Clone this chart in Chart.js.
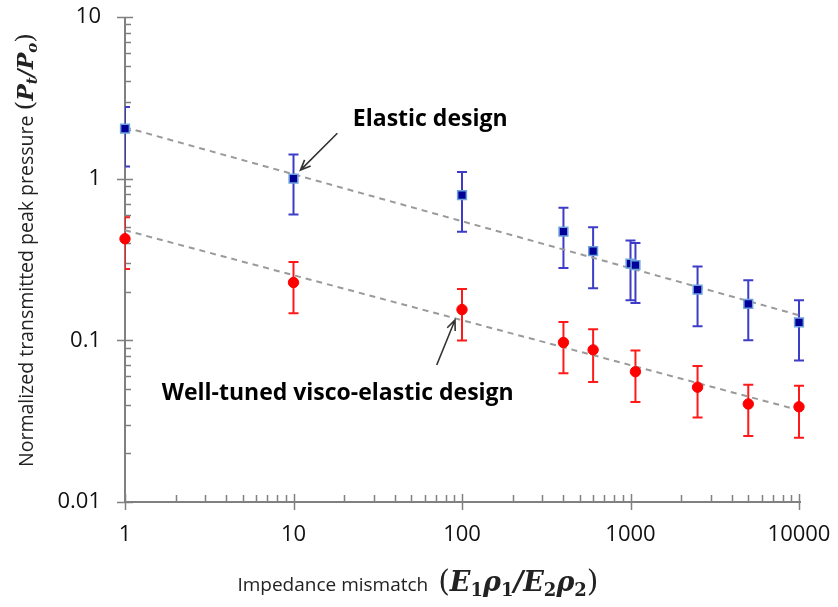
<!DOCTYPE html>
<html><head><meta charset="utf-8">
<script src="https://cdn.jsdelivr.net/npm/chart.js@4"></script>
<style>html,body{margin:0;padding:0;background:#fff}#wrap{width:838px;height:607px}</style>
</head><body><div id="wrap"><canvas id="c" width="838" height="607"></canvas></div>
<script>
// ---- data ----
const elasticX = [1, 10, 100, 400, 600, 1000, 1070, 2500, 5000, 10000];
const elasticY = [2.04, 1.0, 0.79, 0.47, 0.356, 0.298, 0.292, 0.206, 0.168, 0.129];
const elasticHi = [2.78, 1.41, 1.1, 0.66, 0.50, 0.415, 0.40, 0.286, 0.235, 0.177];
const elasticLo = [1.19, 0.60, 0.47, 0.28, 0.21, 0.177, 0.17, 0.122, 0.100, 0.075];
const viscoX = [1, 10, 100, 400, 600, 1070, 2500, 5000, 10000];
const viscoY = [0.425, 0.228, 0.155, 0.097, 0.0873, 0.064, 0.0513, 0.0404, 0.0388];
const viscoHi = [0.578, 0.305, 0.208, 0.130, 0.117, 0.0865, 0.0695, 0.0532, 0.0523];
const viscoLo = [0.276, 0.147, 0.0997, 0.0626, 0.0553, 0.0416, 0.0333, 0.0256, 0.025];
const elasticTrend = [{x: 1, y: 2.08}, {x: 10000, y: 0.143}];
const viscoTrend = [{x: 1, y: 0.48}, {x: 10000, y: 0.037}];
const xTickValues = [1, 10, 100, 1000, 10000];
const xTickLabels = ['1', '10', '100', '1000', '10000'];
const yTickValues = [0.01, 0.1, 1, 10];
const yTickLabels = ['0.01', '0.1', '1', '10'];
const annotTexts = ['Elastic design', 'Well-tuned visco-elastic design'];
const annotAnchors = [{x: 22.5, y: 2.34}, {x: 1.65, y: 0.0466}];
const arrowFrom = [{x: 18.2, y: 1.91}, {x: 70.8, y: 0.0704}];
const arrowTo = [{x: 11.0, y: 1.13}, {x: 90.9, y: 0.1336}];

const pts = (xs, ys) => xs.map((x, i) => ({x, y: ys[i]}));

const REG = '"Open Sans", Lato, sans-serif';
const MATH = '"DejaVu Serif", "Liberation Serif", serif';

function drawRich(ctx, parts, x, y, align) {
  let total = 0;
  parts.forEach(p => { ctx.font = p.font; p.w = ctx.measureText(p.t).width; total += p.w; });
  let cx = align === 'center' ? x - total / 2 : x;
  ctx.textBaseline = 'alphabetic';
  ctx.textAlign = 'left';
  parts.forEach(p => { ctx.font = p.font; ctx.fillText(p.t, cx, y + (p.dy || 0)); cx += p.w; });
}

const decor = {
  id: 'decor',
  beforeDatasetsDraw(chart) {
    const {ctx, chartArea: a, scales: {x, y}} = chart;
    ctx.save();
    ctx.strokeStyle = '#808080';
    ctx.lineWidth = 2;
    ctx.beginPath();
    ctx.moveTo(a.left, a.top); ctx.lineTo(a.left, a.bottom);
    ctx.moveTo(a.left, a.bottom); ctx.lineTo(a.right + 2, a.bottom);
    ctx.stroke();
    ctx.lineWidth = 1.5;
    ctx.beginPath();
    for (let d = -2; d <= 1; d++) {
      for (let m = 1; m <= 10; m++) {
        const v = m * Math.pow(10, d);
        if (v < 0.01 || v > 10) continue;
        const py = Math.round(y.getPixelForValue(v)) + 0.5;
        if (m === 1 || m === 10) { ctx.moveTo(a.left - 8, py); ctx.lineTo(a.left + 8, py); }
        else { ctx.moveTo(a.left, py); ctx.lineTo(a.left + 6, py); }
      }
    }
    for (let d = 0; d <= 3; d++) {
      for (let m = 1; m <= 10; m++) {
        const v = m * Math.pow(10, d);
        const px = Math.round(x.getPixelForValue(v)) + 0.5;
        if (m === 1 || m === 10) { ctx.moveTo(px, a.bottom - 8); ctx.lineTo(px, a.bottom + 8); }
        else { ctx.moveTo(px, a.bottom); ctx.lineTo(px, a.bottom - 7); }
      }
    }
    ctx.stroke();
    // error bars
    ctx.beginPath(); ctx.rect(a.left, a.top - 20, a.right - a.left + 20, a.bottom - a.top + 20); ctx.clip();
    const bars = [[elasticX, elasticHi, elasticLo, '#3c3cc8'], [viscoX, viscoHi, viscoLo, '#ff1a1a']];
    bars.forEach(([xs, hi, lo, col]) => {
      ctx.strokeStyle = col; ctx.lineWidth = 2;
      ctx.beginPath();
      xs.forEach((xv, i) => {
        const px = x.getPixelForValue(xv), ph = y.getPixelForValue(hi[i]), pl = y.getPixelForValue(lo[i]);
        ctx.moveTo(px, ph); ctx.lineTo(px, pl);
        ctx.moveTo(px - 5, ph); ctx.lineTo(px + 5, ph);
        ctx.moveTo(px - 5, pl); ctx.lineTo(px + 5, pl);
      });
      ctx.stroke();
    });
    ctx.restore();
  },
  afterDraw(chart) {
    const {ctx, scales: {x, y}} = chart;
    ctx.save();
    ctx.fillStyle = '#000';
    ctx.font = 'bold 23px ' + REG;
    ctx.textBaseline = 'middle'; ctx.textAlign = 'left';
    annotTexts.forEach((t, i) => {
      ctx.fillText(t, x.getPixelForValue(annotAnchors[i].x), y.getPixelForValue(annotAnchors[i].y));
    });
    ctx.strokeStyle = '#333'; ctx.lineWidth = 1.6;
    arrowFrom.forEach((f, i) => {
      const x0 = x.getPixelForValue(f.x), y0 = y.getPixelForValue(f.y);
      const x1 = x.getPixelForValue(arrowTo[i].x), y1 = y.getPixelForValue(arrowTo[i].y);
      const ang = Math.atan2(y1 - y0, x1 - x0);
      ctx.beginPath();
      ctx.moveTo(x0, y0); ctx.lineTo(x1, y1);
      ctx.moveTo(x1 - 11 * Math.cos(ang - 0.4), y1 - 11 * Math.sin(ang - 0.4));
      ctx.lineTo(x1, y1);
      ctx.lineTo(x1 - 11 * Math.cos(ang + 0.4), y1 - 11 * Math.sin(ang + 0.4));
      ctx.stroke();
    });
    ctx.fillStyle = '#222';
    drawRich(ctx, [
      {t: 'Impedance mismatch  ', font: '19px ' + REG},
      {t: '(', font: '30px ' + MATH},
      {t: 'E', font: 'bold italic 27px ' + MATH},
      {t: '1', font: 'bold 18px ' + MATH, dy: 5},
      {t: 'ρ', font: 'bold italic 27px ' + MATH},
      {t: '1', font: 'bold 18px ' + MATH, dy: 5},
      {t: '/', font: 'bold italic 27px ' + MATH},
      {t: 'E', font: 'bold italic 27px ' + MATH},
      {t: '2', font: 'bold 18px ' + MATH, dy: 5},
      {t: 'ρ', font: 'bold italic 27px ' + MATH},
      {t: '2', font: 'bold 18px ' + MATH, dy: 5},
      {t: ')', font: '30px ' + MATH}
    ], 418, 591, 'center');
    ctx.translate(33, 250);
    ctx.rotate(-Math.PI / 2);
    drawRich(ctx, [
      {t: 'Normalized transmitted peak pressure ', font: '19.5px ' + REG},
      {t: '(', font: '25px ' + MATH},
      {t: 'P', font: 'bold italic 22px ' + MATH},
      {t: 't', font: 'bold italic 15px ' + MATH, dy: 4},
      {t: '/', font: 'bold italic 22px ' + MATH},
      {t: 'P', font: 'bold italic 22px ' + MATH},
      {t: 'o', font: 'bold italic 15px ' + MATH, dy: 4},
      {t: ')', font: '25px ' + MATH}
    ], 0, 0, 'center');
    ctx.restore();
  }
};

new Chart(document.getElementById('c'), {
  type: 'scatter',
  data: {
    datasets: [
      {label: 'Elastic design', data: pts(elasticX, elasticY), pointStyle: 'rect', pointRadius: 6.2,
       backgroundColor: '#000099', borderColor: '#6fa3dc', borderWidth: 1.5, clip: false},
      {label: 'Well-tuned visco-elastic design', data: pts(viscoX, viscoY), pointStyle: 'circle', pointRadius: 5.2,
       backgroundColor: '#ff0000', borderColor: '#ff0000', borderWidth: 1, clip: false},
      {type: 'line', label: 'Elastic trend', data: elasticTrend, borderColor: '#9a9a9a', borderDash: [6, 5],
       borderWidth: 2, pointRadius: 0, fill: false},
      {type: 'line', label: 'Visco trend', data: viscoTrend, borderColor: '#9a9a9a', borderDash: [6, 5],
       borderWidth: 2, pointRadius: 0, fill: false}
    ]
  },
  options: {
    responsive: false, animation: false, devicePixelRatio: 1,
    layout: {padding: {top: 17, right: 39, left: 0, bottom: 0}},
    plugins: {legend: {display: false}, tooltip: {enabled: false}},
    scales: {
      x: {type: 'logarithmic', position: 'bottom', min: 1, max: 10000,
          grid: {display: false, drawTicks: false}, border: {display: false},
          afterBuildTicks: s => { s.ticks = xTickValues.map(v => ({value: v})); },
          afterFit: s => { s.height = 105; s.paddingLeft = 0; s.paddingRight = 0; },
          ticks: {autoSkip: false, maxRotation: 0, padding: 20, color: '#111',
                  font: {family: REG, size: 22}, callback: (v, i) => xTickLabels[i]}},
      y: {type: 'logarithmic', min: 0.01, max: 10,
          grid: {display: false, drawTicks: false}, border: {display: false},
          afterBuildTicks: s => { s.ticks = yTickValues.map(v => ({value: v})); },
          afterFit: s => { s.width = 125; s.paddingTop = 0; s.paddingBottom = 0; },
          ticks: {autoSkip: false, padding: 24, color: '#111',
                  font: {family: REG, size: 22}, callback: (v, i) => yTickLabels[i]}}
    }
  },
  plugins: [decor]
});
</script>
</body></html>
